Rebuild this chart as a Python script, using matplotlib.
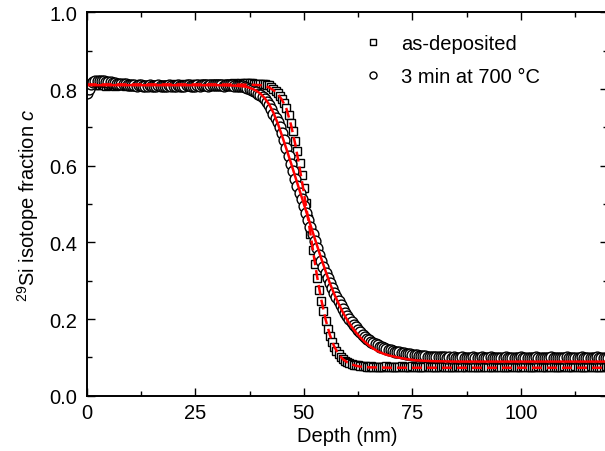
import numpy as np
import matplotlib
matplotlib.use("Agg")
import matplotlib.pyplot as plt
from matplotlib.ticker import MultipleLocator, FormatStrFormatter

plt.rcParams['font.family'] = ['Liberation Sans', 'DejaVu Sans']
plt.rcParams['mathtext.fontset'] = 'custom'
plt.rcParams['mathtext.rm'] = 'Liberation Sans'
plt.rcParams['mathtext.it'] = 'Liberation Sans:italic'

# depth grid of the SIMS profiles (nm)
depth = np.arange(0, 120.01, 0.5)

# 29Si fraction, as-deposited (squares)
c_asdep = [
    0.805, 0.808, 0.811, 0.812, 0.811, 0.810, 0.811, 0.812, 0.810, 0.809,
    0.810, 0.811, 0.810, 0.809, 0.810, 0.811, 0.810, 0.810, 0.809, 0.810,
    0.811, 0.810, 0.809, 0.810, 0.811, 0.810, 0.809, 0.810, 0.811, 0.810,
    0.810, 0.811, 0.810, 0.809, 0.810, 0.811, 0.811, 0.810, 0.810, 0.811,
    0.812, 0.811, 0.810, 0.811, 0.812, 0.811, 0.810, 0.811, 0.812, 0.812,
    0.811, 0.812, 0.813, 0.812, 0.811, 0.812, 0.813, 0.812, 0.812, 0.813,
    0.814, 0.813, 0.812, 0.813, 0.814, 0.813, 0.813, 0.814, 0.815, 0.814,
    0.814, 0.815, 0.814, 0.815, 0.816, 0.815, 0.815, 0.814, 0.814, 0.813,
    0.813, 0.812, 0.812, 0.811, 0.810, 0.806, 0.800, 0.795, 0.789, 0.781,
    0.773, 0.763, 0.750, 0.733, 0.712, 0.690, 0.665, 0.638, 0.608, 0.577,
    0.542, 0.503, 0.462, 0.421, 0.380, 0.343, 0.308, 0.276, 0.247, 0.220,
    0.196, 0.175, 0.157, 0.141, 0.128, 0.117, 0.108, 0.101, 0.095, 0.091,
    0.088, 0.085, 0.083, 0.081, 0.080, 0.079, 0.078, 0.077, 0.077, 0.076,
    0.076, 0.077, 0.076, 0.075, 0.076, 0.076, 0.075, 0.076, 0.077, 0.076,
    0.075, 0.076, 0.076, 0.075, 0.076, 0.077, 0.076, 0.075, 0.076, 0.076,
    0.077, 0.076, 0.075, 0.076, 0.076, 0.075, 0.076, 0.077, 0.076, 0.075,
    0.076, 0.076, 0.075, 0.076, 0.077, 0.076, 0.075, 0.076, 0.076, 0.075,
    0.076, 0.077, 0.076, 0.075, 0.076, 0.076, 0.077, 0.076, 0.075, 0.076,
    0.076, 0.075, 0.076, 0.077, 0.076, 0.076, 0.075, 0.076, 0.076, 0.077,
    0.076, 0.075, 0.076, 0.076, 0.075, 0.076, 0.077, 0.076, 0.075, 0.076,
    0.076, 0.077, 0.076, 0.075, 0.076, 0.076, 0.075, 0.076, 0.077, 0.076,
    0.075, 0.076, 0.076, 0.077, 0.076, 0.075, 0.076, 0.076, 0.075, 0.076,
    0.077, 0.076, 0.075, 0.076, 0.076, 0.077, 0.076, 0.075, 0.076, 0.076,
    0.075, 0.076, 0.077, 0.076, 0.075, 0.076, 0.076, 0.075, 0.076, 0.077,
    0.076,
]

# 29Si fraction after 3 min at 700 C (circles)
c_700 = [
    0.790, 0.800, 0.813, 0.819, 0.822, 0.822, 0.821, 0.820, 0.820, 0.819,
    0.818, 0.817, 0.816, 0.815, 0.814, 0.814, 0.813, 0.812, 0.812, 0.811,
    0.811, 0.810, 0.810, 0.809, 0.810, 0.810, 0.809, 0.808, 0.809, 0.810,
    0.809, 0.808, 0.809, 0.810, 0.809, 0.808, 0.809, 0.809, 0.810, 0.809,
    0.808, 0.809, 0.810, 0.809, 0.808, 0.809, 0.810, 0.810, 0.809, 0.808,
    0.809, 0.810, 0.809, 0.810, 0.811, 0.810, 0.809, 0.810, 0.811, 0.810,
    0.810, 0.811, 0.810, 0.809, 0.810, 0.811, 0.810, 0.810, 0.809, 0.809,
    0.809, 0.808, 0.807, 0.805, 0.803, 0.800, 0.797, 0.794, 0.791, 0.788,
    0.784, 0.780, 0.773, 0.766, 0.758, 0.748, 0.736, 0.725, 0.713, 0.700,
    0.685, 0.667, 0.645, 0.624, 0.604, 0.585, 0.566, 0.548, 0.530, 0.512,
    0.494, 0.476, 0.458, 0.440, 0.422, 0.404, 0.386, 0.368, 0.351, 0.335,
    0.320, 0.306, 0.293, 0.280, 0.268, 0.257, 0.246, 0.236, 0.226, 0.217,
    0.208, 0.200, 0.192, 0.185, 0.178, 0.171, 0.165, 0.159, 0.154, 0.149,
    0.145, 0.141, 0.137, 0.134, 0.131, 0.128, 0.126, 0.124, 0.122, 0.120,
    0.118, 0.117, 0.115, 0.114, 0.113, 0.112, 0.111, 0.110, 0.109, 0.108,
    0.107, 0.106, 0.105, 0.104, 0.104, 0.103, 0.103, 0.102, 0.102, 0.101,
    0.101, 0.101, 0.100, 0.100, 0.101, 0.100, 0.099, 0.100, 0.099, 0.100,
    0.099, 0.098, 0.099, 0.100, 0.099, 0.098, 0.099, 0.099, 0.100, 0.099,
    0.098, 0.099, 0.100, 0.099, 0.098, 0.099, 0.100, 0.099, 0.098, 0.099,
    0.099, 0.098, 0.099, 0.100, 0.099, 0.098, 0.099, 0.099, 0.098, 0.099,
    0.100, 0.099, 0.098, 0.099, 0.099, 0.098, 0.099, 0.100, 0.099, 0.098,
    0.099, 0.099, 0.098, 0.099, 0.100, 0.099, 0.098, 0.099, 0.099, 0.098,
    0.099, 0.100, 0.099, 0.098, 0.099, 0.099, 0.098, 0.099, 0.100, 0.099,
    0.098, 0.099, 0.099, 0.098, 0.099, 0.100, 0.099, 0.098, 0.099, 0.099,
    0.098,
]

# fitted profiles (red lines)
fit_asdep_x = [0, 30, 38, 40, 41, 42, 43, 44, 45, 46, 47, 48, 49, 50, 51, 52,
               53, 54, 55, 56, 57, 58, 59, 60, 61, 62, 63, 65, 70, 120]
fit_asdep_c = [0.812, 0.812, 0.811, 0.810, 0.808, 0.804, 0.797, 0.787, 0.771,
               0.748, 0.708, 0.657, 0.596, 0.530, 0.460, 0.386, 0.314, 0.251,
               0.199, 0.158, 0.128, 0.108, 0.095, 0.087, 0.082, 0.078, 0.076,
               0.074, 0.073, 0.073]

fit_700_x = [0, 30, 34, 36, 37, 38, 39, 40, 41, 42, 43, 44, 45, 46, 47, 48, 49,
             50, 51, 52, 53, 54, 55, 56, 57, 58, 59, 60, 61, 62, 63, 64, 65, 66,
             67, 68, 69, 70, 72, 74, 76, 80, 85, 120]
fit_700_c = [0.810, 0.810, 0.809, 0.807, 0.805, 0.801, 0.796, 0.788, 0.776,
             0.760, 0.738, 0.710, 0.677, 0.643, 0.608, 0.572, 0.536, 0.500,
             0.464, 0.428, 0.393, 0.358, 0.325, 0.293, 0.265, 0.240, 0.217,
             0.197, 0.180, 0.165, 0.152, 0.141, 0.131, 0.123, 0.116, 0.111,
             0.107, 0.104, 0.099, 0.095, 0.092, 0.090, 0.089, 0.089]

fig = plt.figure(figsize=(6.05, 4.52), dpi=100)
ax = fig.add_axes([0.1433, 0.1223, 0.8615, 0.8482])

# measured profiles
ax.plot(depth, c_asdep, ls='none', marker='s', ms=6.4, mfc='white', mec='black',
        mew=1.0, label='as-deposited')
ax.plot(depth, c_700, ls='none', marker='o', ms=7.8, mfc='white', mec='black',
        mew=1.0, label='3 min at 700 °C')

# fits
ax.plot(fit_asdep_x, fit_asdep_c, color='red', lw=1.8, ls=(0, (4, 2)))
ax.plot(fit_700_x, fit_700_c, color='red', lw=1.8)

ax.set_xlim(0, 120)
ax.set_ylim(0, 1.0)
ax.xaxis.set_major_locator(MultipleLocator(25))
ax.xaxis.set_minor_locator(MultipleLocator(12.5))
ax.yaxis.set_major_locator(MultipleLocator(0.2))
ax.yaxis.set_minor_locator(MultipleLocator(0.1))
ax.yaxis.set_major_formatter(FormatStrFormatter('%.1f'))
ax.tick_params(which='both', direction='in', top=True, right=True, width=1.0,
               labelsize=14.5)
ax.tick_params(axis='y', pad=7)
ax.tick_params(axis='x', pad=5)
ax.tick_params(which='major', length=6)
ax.tick_params(which='minor', length=3.5)
for s in ax.spines.values():
    s.set_linewidth(1.4)

ax.set_xlabel('Depth (nm)', fontsize=14.5, labelpad=3)
ax.set_ylabel(r'$^{29}$Si isotope fraction $c$', fontsize=14.5, labelpad=6)

ax.legend(loc='upper left', bbox_to_anchor=(0.51, 0.97), frameon=False,
          fontsize=14.5, markerscale=0.65, handlelength=1.0, handletextpad=0.9,
          labelspacing=0.7, borderpad=0)

fig.savefig('out.png', dpi=100)
